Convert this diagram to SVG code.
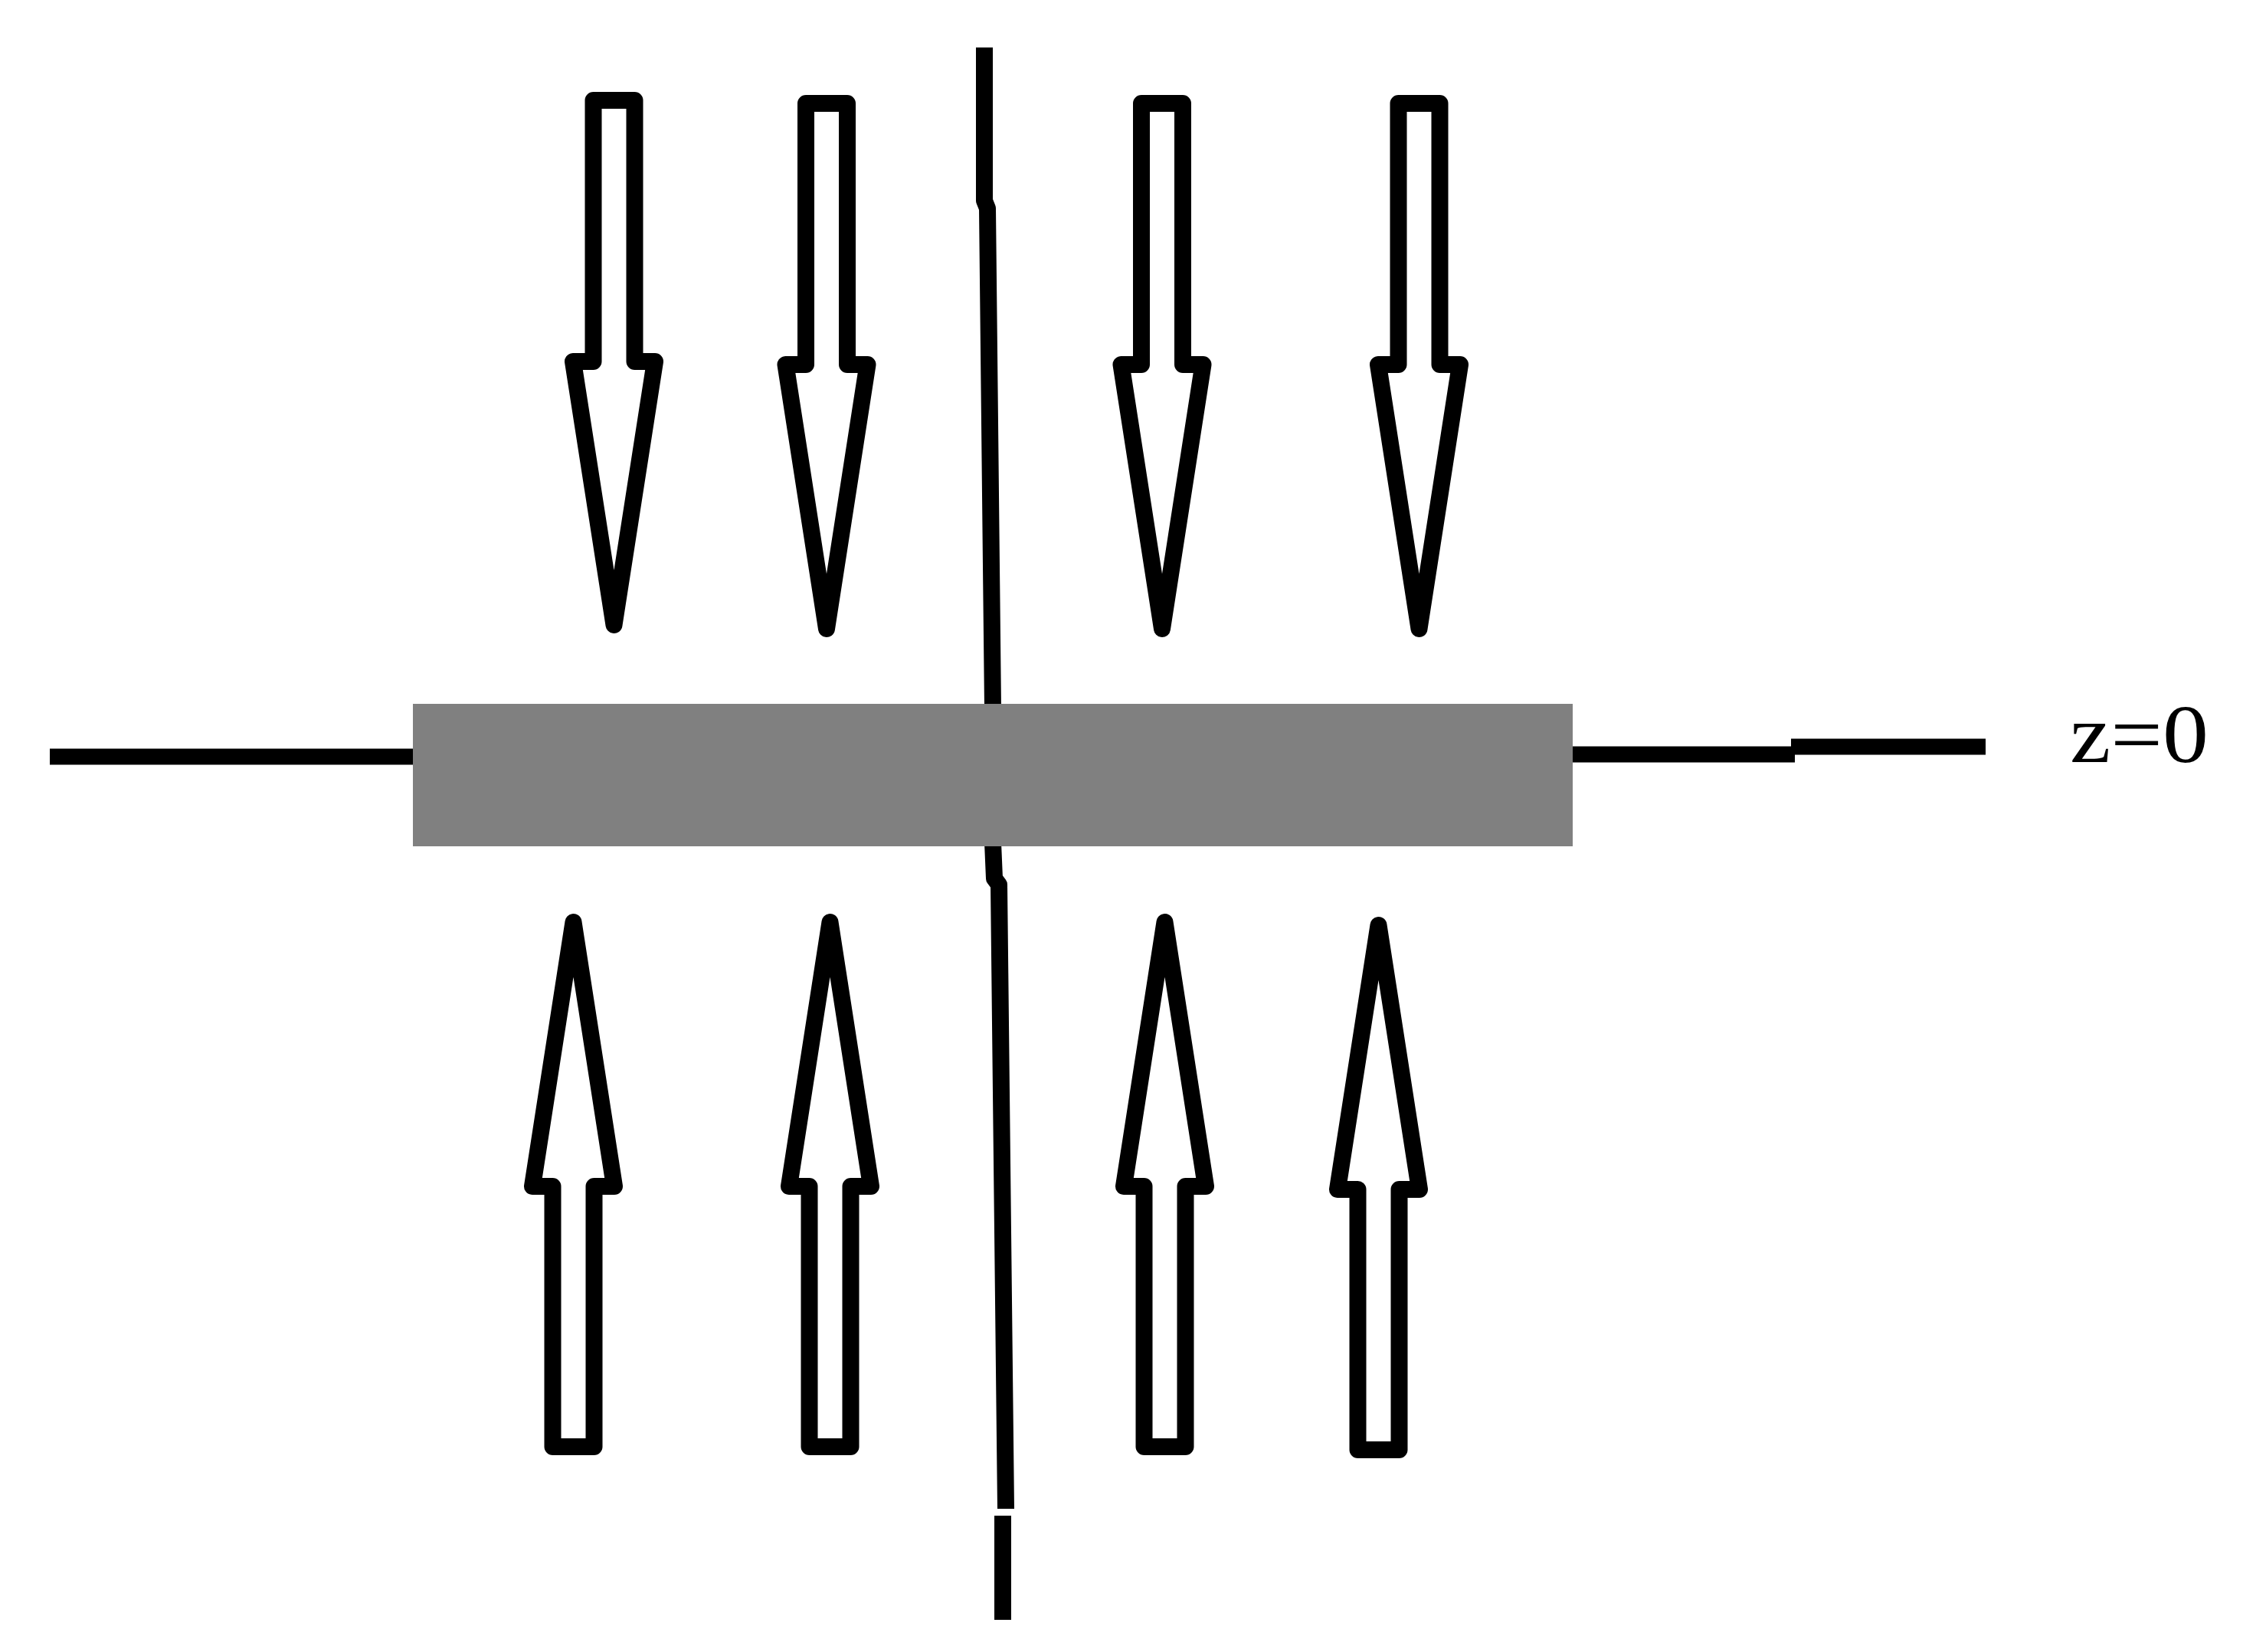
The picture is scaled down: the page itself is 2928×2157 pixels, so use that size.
<svg xmlns="http://www.w3.org/2000/svg" width="2928" height="2157" viewBox="0 0 2928 2157">
<style>
.arrow{fill:#fff;stroke:#000;stroke-width:22;stroke-linejoin:round}
.line{fill:none;stroke:#000;stroke-width:22;stroke-linecap:butt;stroke-linejoin:round}
.hline{fill:none;stroke:#000;stroke-width:21}
.label{font-family:"Liberation Serif","Times New Roman",serif;font-size:108px;fill:#000}
</style>
<rect width="2928" height="2157" fill="#fff"/>
<g id="connectors">
<polyline class="line" points="1285,62 1285,262 1289,272 1296,925"/>
<polyline class="line" points="1296,1100 1298,1147 1304,1155 1313,1970"/>
<line class="line" x1="1309" y1="1979" x2="1309" y2="2115"/>
<line class="hline" x1="65" y1="988" x2="545" y2="988"/>
<polyline class="hline" points="2045,985 2343,985"/>
<line class="hline" x1="2338" y1="975" x2="2592" y2="975"/>
</g>
<g id="plate">
<rect x="539" y="919" width="1514" height="186" fill="#808080"/>
</g>
<g id="down-arrow-1"><polygon class="arrow" points="774.5,131 828.5,131 828.5,472 855,472 801.5,816 748,472 774.5,472"/></g>
<g id="down-arrow-2"><polygon class="arrow" points="1052,135 1106,135 1106,476 1132.5,476 1079,821 1025.5,476 1052,476"/></g>
<g id="down-arrow-3"><polygon class="arrow" points="1490,135 1544,135 1544,476 1570.5,476 1517,821 1463.5,476 1490,476"/></g>
<g id="down-arrow-4"><polygon class="arrow" points="1825.5,135 1879.5,135 1879.5,476 1906,476 1852.5,821 1799,476 1825.5,476"/></g>
<g id="up-arrow-1"><polygon class="arrow" points="721.5,1889 775.5,1889 775.5,1549 802,1549 748.5,1204 695,1549 721.5,1549"/></g>
<g id="up-arrow-2"><polygon class="arrow" points="1056.5,1889 1110.5,1889 1110.5,1549 1137,1549 1083.5,1204 1030,1549 1056.5,1549"/></g>
<g id="up-arrow-3"><polygon class="arrow" points="1493.5,1889 1547.5,1889 1547.5,1549 1574,1549 1520.5,1204 1467,1549 1493.5,1549"/></g>
<g id="up-arrow-4"><polygon class="arrow" points="1772.5,1893 1826.5,1893 1826.5,1553 1853,1553 1799.5,1208 1746,1553 1772.5,1553"/></g>
<g id="label-z0"><text class="label" x="2702" y="995" textLength="181" lengthAdjust="spacingAndGlyphs">z=0</text></g>
</svg>
